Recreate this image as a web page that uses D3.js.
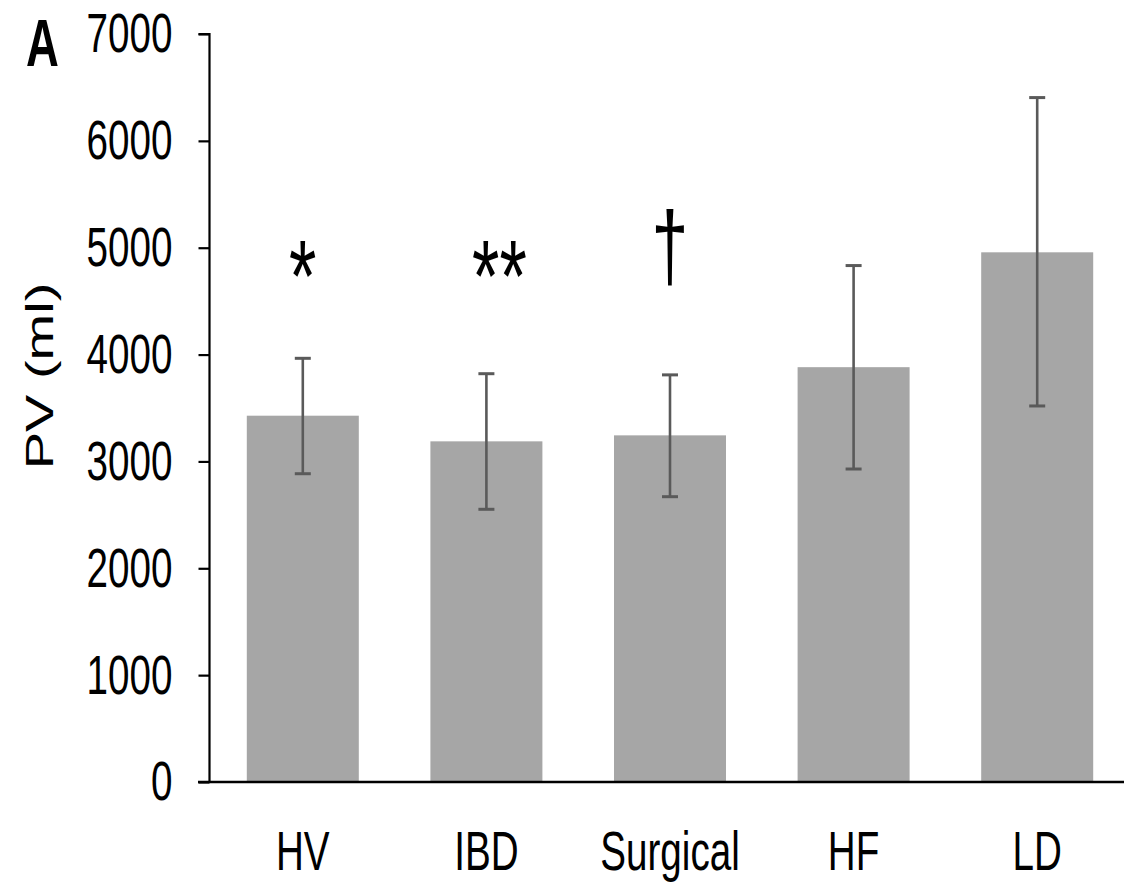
<!DOCTYPE html>
<html>
<head>
<meta charset="utf-8">
<script src="https://cdn.jsdelivr.net/npm/d3@7"></script>
<style>
  html, body { margin: 0; padding: 0; background: #fff; }
  svg { display: block; }
  text { font-family: "Liberation Sans", Arial, sans-serif; fill: #000; }
</style>
</head>
<body>
<svg id="chart" width="1124" height="883"></svg>
<script>
// ---- data ----
const categories = ["HV", "IBD", "Surgical", "HF", "LD"];
const means = [3428, 3188, 3244, 3882, 4957];
const errUpper = [3965, 3821, 3810, 4833, 6405];
const errLower = [2885, 2552, 2670, 2929, 3519];
const marks = ["*", "**", "\u2020", "", ""];
const yTicks = [0, 1000, 2000, 3000, 4000, 5000, 6000, 7000];
const yLabel = "PV (ml)";
const panelLabel = "A";

// ---- layout ----
const SX = 0.69; // horizontal text compression
const W = 1124, H = 883;
const svg = d3.select("#chart");

const x = d3.scaleBand().domain(categories).range([211, 1129]).paddingInner(0.39).paddingOuter(0.195);
const y = d3.scaleLinear().domain([0, 7000]).range([782, 34]);

// bars
svg.append("g").selectAll("rect").data(categories).join("rect")
  .attr("x", d => x(d))
  .attr("width", x.bandwidth())
  .attr("y", (d, i) => y(means[i]))
  .attr("height", (d, i) => y(0) - y(means[i]))
  .attr("fill", "#a6a6a6");

// error bars
const eb = svg.append("g").attr("stroke", "#5a5a5a").attr("fill", "none");
categories.forEach((c, i) => {
  const cx = x(c) + x.bandwidth() / 2;
  eb.append("line").attr("x1", cx).attr("x2", cx).attr("y1", y(errUpper[i])).attr("y2", y(errLower[i])).attr("stroke-width", 2.6);
  eb.append("line").attr("x1", cx - 8).attr("x2", cx + 8).attr("y1", y(errUpper[i])).attr("y2", y(errUpper[i])).attr("stroke-width", 3);
  eb.append("line").attr("x1", cx - 8).attr("x2", cx + 8).attr("y1", y(errLower[i])).attr("y2", y(errLower[i])).attr("stroke-width", 3);
});

// y axis
const yAxis = svg.append("g").attr("transform", "translate(209.5,0)")
  .call(d3.axisLeft(y).tickValues(yTicks).tickSize(11).tickPadding(26).tickFormat(d3.format("d")));
yAxis.select(".domain").attr("stroke", "#000").attr("stroke-width", 2.2).attr("d", `M-11,${y(7000)}H0V${y(0)}`);
yAxis.selectAll(".tick line").attr("stroke", "#000").attr("stroke-width", 2.2);
yAxis.selectAll(".tick text")
  .attr("font-size", 56).attr("font-family", "Liberation Sans, Arial, sans-serif")
  .attr("fill", "#000")
  .attr("x", -37 / SX)
  .attr("transform", `scale(${SX},1)`);

// x axis line
svg.append("line").attr("x1", 198).attr("x2", W).attr("y1", y(0)).attr("y2", y(0))
  .attr("stroke", "#000").attr("stroke-width", 2.6);

// x labels
svg.append("g").selectAll("text").data(categories).join("text")
  .attr("transform", d => `translate(${x(d) + x.bandwidth() / 2},870) scale(${SX},1)`)
  .attr("text-anchor", "middle")
  .attr("font-size", 56)
  .text(d => d);

// y title
svg.append("text")
  .attr("transform", `translate(53,376) scale(${SX},1) rotate(-90)`)
  .attr("text-anchor", "middle")
  .attr("font-size", 56)
  .text(yLabel);

// panel label
svg.append("text")
  .attr("transform", `translate(26,66) scale(${SX},1)`)
  .attr("font-size", 66).attr("font-weight", "bold")
  .text(panelLabel);

// significance marks
categories.forEach((c, i) => {
  if (!marks[i]) return;
  const cx = x(c) + x.bandwidth() / 2;
  const isDagger = marks[i] === "\u2020";
  const t = svg.append("text")
    .attr("text-anchor", "middle")
    .text(marks[i]);
  if (isDagger) {
    t.attr("transform", `translate(${cx},279) scale(${SX},1)`)
      .attr("font-family", "Liberation Serif, Times New Roman, serif")
      .attr("font-size", 96);
  } else {
    const dx = marks[i].length > 1 ? 13 : 0;
    t.attr("transform", `translate(${cx + dx},311) scale(${SX},1)`)
      .attr("font-family", "DejaVu Sans, sans-serif")
      .attr("font-size", 102);
  }
});
</script>
</body>
</html>
